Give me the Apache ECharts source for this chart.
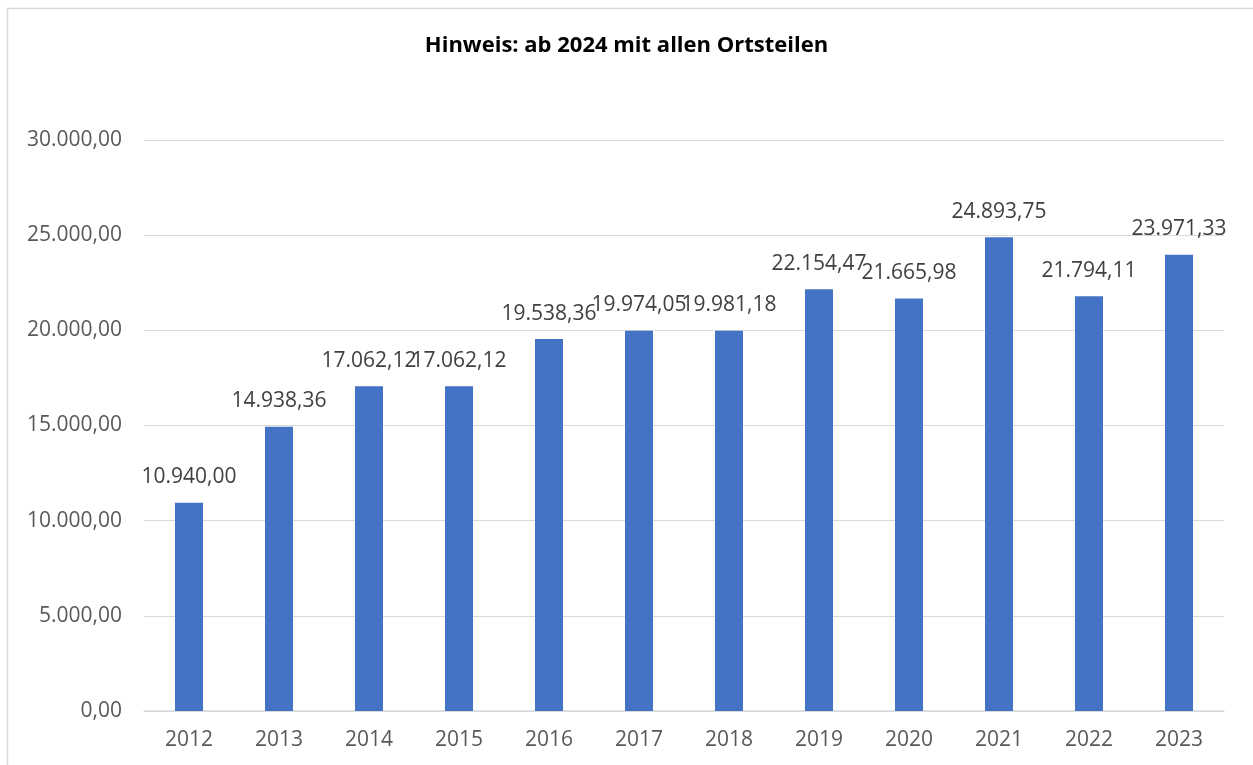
<!DOCTYPE html>
<html>
<head>
<meta charset="utf-8">
<script src="https://cdn.jsdelivr.net/npm/echarts@6/dist/echarts.min.js"></script>
<style>
html,body{margin:0;padding:0;background:#fff;}
#chart{width:1253px;height:765px;}
</style>
</head>
<body>
<div id="chart"></div>
<script>
const titleText = 'Hinweis: ab 2024 mit allen Ortsteilen';
const years = ['2012','2013','2014','2015','2016','2017','2018','2019','2020','2021','2022','2023'];
const values = [10940.00, 14938.36, 17062.12, 17062.12, 19538.36, 19974.05, 19981.18, 22154.47, 21665.98, 24893.75, 21794.11, 23971.33];

function fmtDE(v) {
  const parts = v.toFixed(2).split('.');
  const intPart = parts[0].replace(/\B(?=(\d{3})+(?!\d))/g, '.');
  return intPart + ',' + parts[1];
}

const font = '"Open Sans", "Noto Sans", sans-serif';
const chart = echarts.init(document.getElementById('chart'), null, {renderer: 'canvas'});
chart.setOption({
  animation: false,
  backgroundColor: '#ffffff',
  title: {
    text: titleText,
    left: 'center',
    top: 30,
    textStyle: {fontFamily: font, fontSize: 22, fontWeight: 'bold', color: '#000000'}
  },
  graphic: [{
    type: 'rect',
    shape: {x: 7.5, y: 8.5, width: 1260, height: 800},
    style: {fill: 'none', stroke: '#d9d9d9', lineWidth: 1.5},
    silent: true,
    z: -1
  }],
  grid: {left: 144, right: 29, top: 140, bottom: 54, containLabel: false},
  xAxis: {
    type: 'category',
    data: years,
    axisLine: {show: true, lineStyle: {color: '#d9d9d9', width: 1.5}},
    axisTick: {show: false},
    axisLabel: {fontFamily: font, fontSize: 21, color: '#595959', margin: 19}
  },
  yAxis: {
    type: 'value',
    min: 0,
    max: 30000,
    interval: 5000,
    axisLine: {show: false},
    axisTick: {show: false},
    splitLine: {lineStyle: {color: '#d9d9d9', width: 1}},
    axisLabel: {fontFamily: font, fontSize: 21, color: '#595959', margin: 22, formatter: v => fmtDE(v)}
  },
  series: [{
    type: 'bar',
    data: values,
    barWidth: 28,
    itemStyle: {color: '#4472C4'},
    label: {
      show: true,
      position: 'top',
      distance: 15,
      fontFamily: font,
      fontSize: 21,
      color: '#404040',
      formatter: p => fmtDE(p.value)
    }
  }]
});
</script>
</body>
</html>
